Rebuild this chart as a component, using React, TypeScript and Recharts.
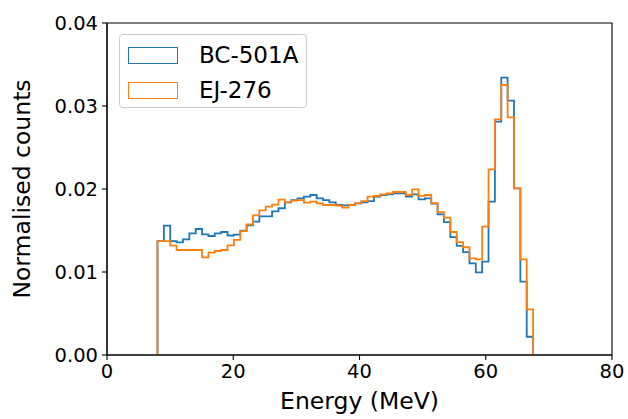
import { LineChart, Line, XAxis, YAxis, ReferenceArea } from 'recharts'

// histogram range (MeV), 1 bin per value below
const BIN_LO = 8
const BIN_HI = 67.5

const BC501A = [
  0.01373, 0.01558, 0.01373, 0.01357, 0.01394, 0.01466, 0.01518, 0.01454, 0.01434, 0.01466,
  0.01482, 0.0144, 0.0145, 0.01498, 0.01562, 0.01606, 0.0167, 0.0167, 0.0173, 0.01768,
  0.0184, 0.01867, 0.01888, 0.01908, 0.01928, 0.01888, 0.01867, 0.0184, 0.01807, 0.01803,
  0.01807, 0.01827, 0.0184, 0.01855, 0.01908, 0.01928, 0.01936, 0.01948, 0.01948, 0.01908,
  0.01936, 0.01876, 0.01888, 0.01823, 0.01695, 0.016, 0.0142, 0.01315, 0.0124, 0.01104,
  0.00996, 0.01124, 0.01847, 0.02811, 0.03341, 0.03064, 0.02008, 0.00884, 0.0022,
]

const EJ276 = [
  0.01373, 0.01373, 0.01317, 0.01265, 0.01265, 0.01265, 0.01265, 0.01177, 0.01233, 0.01253,
  0.01265, 0.0132, 0.01386, 0.01492, 0.01574, 0.01683, 0.01743, 0.01787, 0.01811, 0.01872,
  0.01838, 0.01859, 0.01867, 0.01835, 0.01847, 0.01827, 0.01807, 0.01807, 0.01799, 0.01775,
  0.01807, 0.01827, 0.01855, 0.01908, 0.01916, 0.01936, 0.01948, 0.01964, 0.01964, 0.01928,
  0.01996, 0.01916, 0.01928, 0.01831, 0.01721, 0.01655, 0.01482, 0.0136, 0.01298, 0.01165,
  0.01153, 0.01546, 0.02237, 0.0284, 0.03253, 0.02863, 0.02008, 0.01153, 0.0055,
]

const X_TICKS = [0, 20, 40, 60, 80]
const Y_TICKS = [0, 0.01, 0.02, 0.03, 0.04]

const SERIES = [
  { name: 'BC-501A', values: BC501A, color: '#1f77b4' },
  { name: 'EJ-276', values: EJ276, color: '#ff7f0e' },
]

const FONT = '"DejaVu Sans", sans-serif'

// matplotlib histtype="step" outline: up from 0 at the first edge, down to 0 at the last
function toSteps(values: number[]) {
  const w = (BIN_HI - BIN_LO) / values.length
  const pts = [{ x: BIN_LO, y: 0 }]
  values.forEach((v, i) => pts.push({ x: BIN_LO + i * w, y: v }))
  pts.push({ x: BIN_HI, y: 0 })
  return pts
}

function XLabel({ viewBox }: any) {
  const cx = viewBox.x + viewBox.width / 2
  return (
    <text x={cx} y={viewBox.y + 54} textAnchor="middle" fontSize={23.5} fontFamily={FONT} fill="#000">
      Energy (MeV)
    </text>
  )
}

function YLabel({ viewBox }: any) {
  const cx = 30
  const cy = viewBox.y + viewBox.height / 2
  return (
    <text
      x={cx}
      y={cy}
      transform={`rotate(-90 ${cx} ${cy})`}
      textAnchor="middle"
      fontSize={23.5}
      fontFamily={FONT}
      fill="#000"
    >
      Normalised counts
    </text>
  )
}

function LegendBox() {
  return (
    <div
      style={{
        position: 'absolute',
        left: 119,
        top: 34,
        width: 188,
        height: 74,
        border: '1px solid #cccccc',
        borderRadius: 4,
        background: 'rgba(255,255,255,0.8)',
        fontFamily: FONT,
        fontSize: 23,
        color: '#000',
        boxSizing: 'border-box',
      }}
    >
      {SERIES.map((s, i) => (
        <div key={s.name}>
          <div
            style={{
              position: 'absolute',
              left: 8,
              top: 12 + i * 35,
              width: 50,
              height: 17,
              border: `1.5px solid ${s.color}`,
              boxSizing: 'border-box',
            }}
          />
          <div
            style={{
              position: 'absolute',
              left: 79,
              top: 6 + i * 35,
              lineHeight: '28px',
              whiteSpace: 'nowrap',
            }}
          >
            {s.name}
          </div>
        </div>
      ))}
    </div>
  )
}

export default function App() {
  const tickStyle = { fontSize: 19.5, fill: '#000', fontFamily: FONT }
  return (
    <div style={{ position: 'absolute', left: 0, top: 0, width: 628, height: 419, background: '#fff' }}>
      <LineChart width={628} height={419} margin={{ top: 23, right: 16, left: 0, bottom: 0 }}>
        <XAxis
          type="number"
          dataKey="x"
          domain={[0, 80]}
          ticks={X_TICKS}
          height={64}
          tickSize={5}
          tickMargin={4}
          tick={tickStyle}
          stroke="#000"
          axisLine={{ stroke: '#000', strokeWidth: 1.1 }}
          tickLine={{ stroke: '#000', strokeWidth: 1.1 }}
          label={<XLabel />}
        />
        <YAxis
          type="number"
          domain={[0, 0.04]}
          ticks={Y_TICKS}
          width={107}
          tickSize={5}
          tickMargin={4}
          tick={tickStyle}
          tickFormatter={(v: number) => v.toFixed(2)}
          stroke="#000"
          axisLine={{ stroke: '#000', strokeWidth: 1.1 }}
          tickLine={{ stroke: '#000', strokeWidth: 1.1 }}
          label={<YLabel />}
        />
        <ReferenceArea x1={0} x2={80} y1={0} y2={0.04} fill="none" stroke="#000" strokeWidth={1.1} />
        {SERIES.map((s) => (
          <Line
            key={s.name}
            name={s.name}
            data={toSteps(s.values)}
            dataKey="y"
            type="stepAfter"
            stroke={s.color}
            strokeWidth={1.8}
            dot={false}
            activeDot={false}
            isAnimationActive={false}
          />
        ))}
      </LineChart>
      <LegendBox />
    </div>
  )
}
